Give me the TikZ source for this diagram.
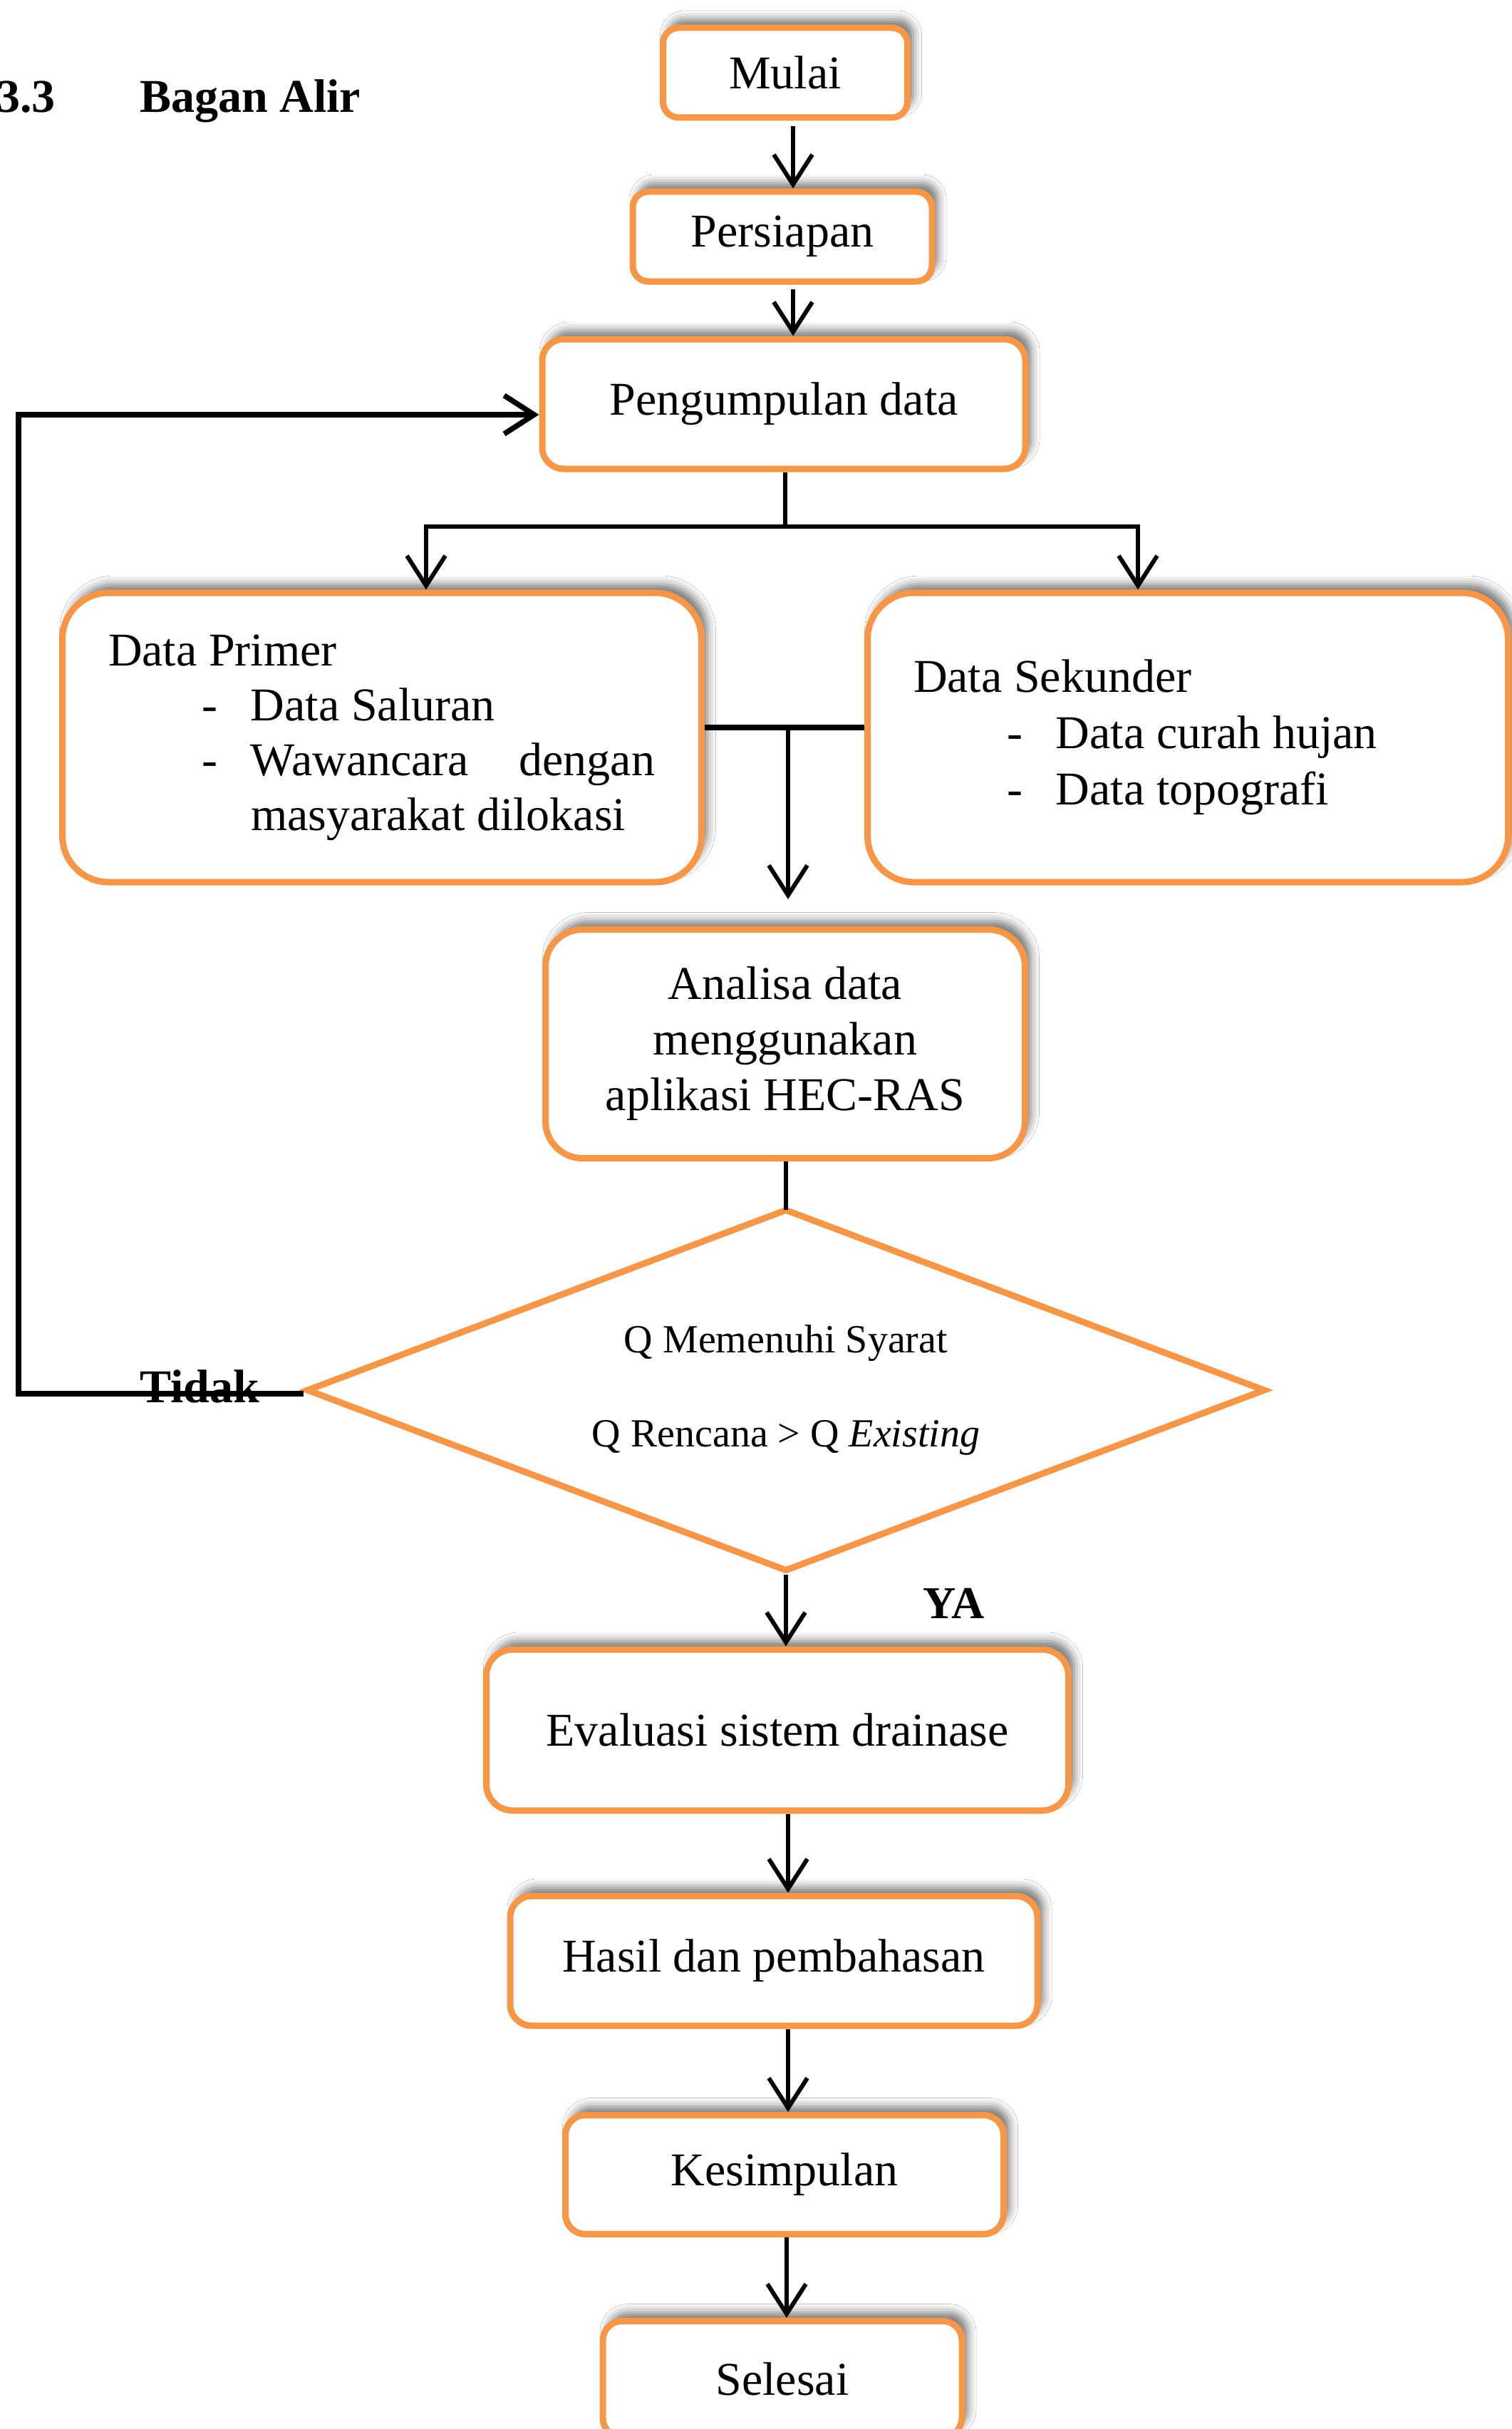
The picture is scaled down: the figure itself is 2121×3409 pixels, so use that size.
\documentclass[tikz,border=0pt]{standalone}
\usepackage{fontspec}
\setmainfont{Liberation Serif}
\usetikzlibrary{arrows.meta,shadows.blur,shapes.geometric}
\definecolor{boxorange}{HTML}{F79646}
\begin{document}
\begin{tikzpicture}[x=1pt,y=-1pt,
  box/.style={draw=boxorange, line width=9pt, fill=white, rectangle, inner sep=0pt,
    align=center, text=black,
    blur shadow={shadow xshift=8pt, shadow yshift=12pt, shadow blur radius=12pt, shadow opacity=55},
    font=\fontsize{66}{77}\selectfont},
  decision/.style={draw=boxorange, line width=9pt, fill=white, diamond, aspect=2.64, inner sep=0pt,
    align=center, font=\fontsize{56}{132}\selectfont},
  conn/.style={draw=black, line width=6pt, -{Straight Barb[length=42pt,width=54pt]}},
  plain/.style={draw=black, line width=6pt},
  thick line/.style={draw=black, line width=7.5pt},
  lbl/.style={inner sep=0pt, font=\fontsize{66}{77}\selectfont\bfseries}
]
\useasboundingbox (0,0) rectangle (2121,3409);
\fill[white] (0,0) rectangle (2121,3409);

% title
\node[lbl, anchor=base west] (num) at (-5,158) {3.3};
\node[lbl, anchor=base west] (title) at (196,158) {Bagan Alir};

% boxes
\node[box, rounded corners=22pt, minimum width=343pt, minimum height=126pt] (mulai) at (1102,102) {Mulai};
\node[box, rounded corners=22pt, minimum width=420pt, minimum height=126pt] (persiapan) at (1098,332) {Persiapan};
\node[box, rounded corners=30pt, minimum width=678pt, minimum height=182pt] (peng) at (1100,567) {Pengumpulan data};

\node[box, rounded corners=65pt, minimum width=897pt, minimum height=406pt] (primer) at (536,1035) {%
\begin{minipage}{768pt}\fontsize{66}{77}\selectfont
Data Primer\\
\hspace*{131pt}\makebox[69pt][l]{-}Data Saluran\\
\hspace*{131pt}\makebox[69pt][l]{-}\makebox[567pt][s]{Wawancara\hfill dengan}\\
\hspace*{200pt}masyarakat dilokasi
\end{minipage}};

\node[box, rounded corners=65pt, minimum width=899pt, minimum height=406pt] (sekunder) at (1667,1035) {%
\begin{minipage}{770pt}\fontsize{66}{79}\selectfont
Data Sekunder\\
\hspace*{131pt}\makebox[69pt][l]{-}Data curah hujan\\
\hspace*{131pt}\makebox[69pt][l]{-}Data topografi
\end{minipage}};

\node[box, rounded corners=52pt, minimum width=673pt, minimum height=321pt, font=\fontsize{66}{78}\selectfont] (analisa) at (1102,1465) {Analisa data\\menggunakan\\aplikasi HEC-RAS};

\node[decision, minimum width=1346pt, minimum height=509pt] (dia) at (1103,1951) {Q Memenuhi Syarat\\Q Rencana > Q \textit{Existing}};

\node[box, rounded corners=37pt, minimum width=817pt, minimum height=226pt] (eval) at (1091,2428) {Evaluasi sistem drainase};
\node[box, rounded corners=30pt, minimum width=740pt, minimum height=182pt] (hasil) at (1086,2752) {Hasil dan pembahasan};
\node[box, rounded corners=28pt, minimum width=615pt, minimum height=167pt] (kes) at (1101,3052) {Kesimpulan};
\node[box, rounded corners=27pt, minimum width=504pt, minimum height=163pt] (selesai) at (1098,3339) {Selesai};

% helper coordinates
\coordinate (ax1) at (1113,0);
\coordinate (br) at (1102,739);
\coordinate (brL) at (598,739);
\coordinate (brR) at (1597,739);
\coordinate (mid) at (1106,1021);
\coordinate (ax2) at (1106,0);
\coordinate (ax3) at (1104,0);
\coordinate (lp) at (26,1956);

% connectors
\draw[conn, shorten <=8pt] (mulai.south -| ax1) -- (persiapan.north -| ax1);
\draw[conn, shorten <=6pt] (persiapan.south -| ax1) -- (peng.north -| ax1);
\draw[plain] (peng.south -| br) -- (br);
\draw[conn] (br) -| (primer.north -| brL);
\draw[conn] (br) -| (sekunder.north -| brR);
\draw[thick line] (primer.east |- mid) -- (sekunder.west |- mid);
\draw[conn, shorten >=38pt] (mid) -- (analisa.north -| mid);
\draw[plain] (analisa.south -| dia.north) -- ([yshift=-6pt]dia.north);
\draw[conn] (dia.south) -- (eval.north -| dia.south);
\draw[conn] (eval.south -| ax2) -- (hasil.north -| ax2);
\draw[conn] (hasil.south -| ax2) -- (kes.north -| ax2);
\draw[conn] (kes.south -| ax3) -- (selesai.north -| ax3);

% labels
\node[lbl, anchor=base west] (tidak) at (196,1968) {Tidak};
\node[lbl, anchor=base west, font=\fontsize{64}{77}\selectfont\bfseries] (ya) at (1295,2271) {YA};

% loop back
\draw[thick line, -{Straight Barb[length=42pt,width=54pt]}] (dia.west |- lp) -- (lp) |- ([yshift=-15pt]peng.west);
\end{tikzpicture}
\end{document}
